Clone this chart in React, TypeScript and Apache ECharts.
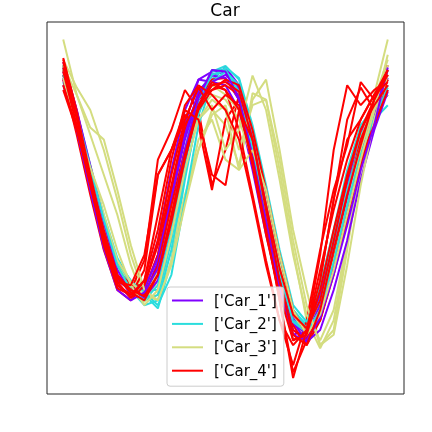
import React, { useEffect, useRef } from 'react';
import * as echarts from 'echarts';

// sample positions along the series (0..576)
const xIndex = [0, 24, 48, 72, 96, 120, 144, 168, 192, 216, 240, 264, 288, 312, 336, 360, 384, 408, 432, 456, 480, 504, 528, 552, 576];

const classNames = ["['Car_1']", "['Car_2']", "['Car_3']", "['Car_4']"];
const classColors = ['#8000ff', '#2adddd', '#d4dd80', '#ff0000'];

// Car_1
const car1a = [1.84, 1.21, 0.53, -0.16, -0.79, -0.94, -0.85, -0.41, 0.40, 1.21, 1.78, 1.88, 1.90, 1.53, 0.78, -0.04, -0.79, -1.35, -1.45, -0.98, -0.35, 0.21, 0.78, 1.28, 1.71];
const car1b = [1.93, 1.34, 0.65, -0.04, -0.66, -0.91, -0.79, -0.23, 0.65, 1.40, 1.78, 1.75, 1.71, 1.40, 0.65, -0.16, -0.85, -1.41, -1.35, -0.85, -0.23, 0.46, 1.09, 1.46, 1.84];
const car1c = [1.78, 1.15, 0.46, -0.23, -0.73, -0.85, -0.88, -0.60, 0.09, 0.90, 1.53, 1.78, 1.93, 1.71, 1.03, 0.21, -0.58, -1.20, -1.48, -1.16, -0.54, 0.15, 0.90, 1.34, 1.90];
const car1d = [1.88, 1.28, 0.63, -0.08, -0.66, -0.89, -0.91, -0.50, 0.28, 1.03, 1.59, 1.84, 1.88, 1.65, 0.96, 0.15, -0.63, -1.25, -1.41, -1.04, -0.41, 0.28, 0.90, 1.38, 1.80];
const car1e = [1.71, 1.18, 0.55, -0.13, -0.70, -0.85, -0.83, -0.45, 0.30, 1.09, 1.63, 1.83, 1.80, 1.53, 0.84, 0.03, -0.73, -1.29, -1.38, -0.91, -0.29, 0.34, 0.78, 1.28, 1.65];
const car1f = [2.00, 1.40, 0.71, 0.00, -0.60, -0.88, -0.95, -0.73, -0.10, 0.78, 1.46, 1.75, 1.84, 1.68, 1.03, 0.21, -0.60, -1.25, -1.50, -1.35, -0.85, -0.23, 0.53, 1.15, 1.63];
const car1g = [1.80, 1.15, 0.40, -0.33, -0.85, -0.98, -0.88, -0.58, 0.05, 0.90, 1.55, 1.90, 1.88, 1.55, 0.80, -0.08, -0.83, -1.41, -1.48, -1.20, -0.66, -0.04, 0.65, 1.21, 1.93];

// Car_2
const car2a = [1.90, 1.30, 0.68, 0.03, -0.50, -0.73, -0.91, -1.08, -0.48, 0.53, 1.40, 1.88, 1.95, 1.78, 1.15, 0.40, -0.41, -1.10, -1.29, -0.91, -0.23, 0.53, 1.15, 1.40, 1.78];
const car2b = [1.80, 1.21, 0.59, -0.04, -0.54, -0.79, -0.98, -0.91, -0.23, 0.71, 1.53, 1.90, 1.90, 1.65, 0.96, 0.21, -0.58, -1.20, -1.33, -0.85, -0.16, 0.59, 1.09, 1.34, 1.65];
const car2c = [1.96, 1.38, 0.71, 0.09, -0.45, -0.75, -0.85, -0.85, -0.10, 0.90, 1.63, 1.84, 1.88, 1.63, 0.90, 0.09, -0.66, -1.23, -1.35, -0.98, -0.33, 0.40, 1.03, 1.38, 1.71];
const car2d = [1.75, 1.15, 0.53, -0.08, -0.60, -0.85, -1.04, -0.98, -0.35, 0.59, 1.34, 1.78, 1.93, 1.80, 1.21, 0.46, -0.35, -1.04, -1.25, -0.79, -0.10, 0.65, 1.21, 1.43, 1.59];
const car2e = [1.84, 1.25, 0.63, 0.00, -0.50, -0.75, -0.88, -1.04, -0.66, 0.28, 1.21, 1.75, 1.88, 1.71, 1.09, 0.34, -0.45, -1.10, -1.33, -0.98, -0.35, 0.40, 0.96, 1.28, 1.46];
const car2f = [1.93, 1.34, 0.68, 0.03, -0.54, -0.85, -0.98, -0.79, -0.10, 0.78, 1.53, 1.84, 1.90, 1.63, 0.93, 0.15, -0.63, -1.25, -1.38, -1.10, -0.50, 0.21, 0.84, 1.30, 1.68];

// Car_3
const car3a = [2.28, 1.59, 1.09, 0.59, 0.09, -0.54, -0.98, -0.91, -0.35, 0.34, 0.90, 1.40, 1.21, 0.71, 1.53, 1.78, 0.90, -0.10, -0.85, -1.54, -1.35, -0.35, 0.78, 1.59, 2.28];
const car3b = [2.03, 1.68, 1.40, 0.90, 0.28, -0.41, -0.91, -0.98, -0.48, 0.28, 1.03, 1.28, 0.78, 0.65, 1.61, 1.53, 0.65, -0.35, -1.23, -1.58, -1.23, -0.29, 0.65, 1.28, 1.90];
const car3c = [1.84, 1.21, 0.59, 0.00, -0.50, -0.85, -1.00, -0.73, 0.03, 0.84, 1.40, 1.59, 1.53, 1.28, 0.78, -0.04, -0.79, -1.29, -1.41, -1.04, -0.41, 0.34, 1.03, 1.53, 2.03];
const car3d = [1.71, 1.28, 0.65, 0.00, -0.54, -0.88, -0.95, -0.60, 0.15, 0.90, 1.28, 1.46, 0.90, 1.15, 1.83, 1.40, 0.53, -0.41, -1.16, -1.48, -1.10, -0.23, 0.71, 1.40, 1.71];
const car3e = [1.90, 1.30, 0.71, 0.09, -0.48, -0.75, -0.91, -0.66, 0.09, 0.90, 1.46, 1.71, 1.59, 1.40, 1.03, 0.28, -0.54, -1.16, -1.38, -1.10, -0.48, 0.21, 0.90, 1.46, 1.96];
const car3f = [1.96, 1.59, 1.18, 1.03, 0.40, -0.29, -0.85, -0.98, -0.54, 0.21, 0.90, 1.34, 1.46, 0.90, 1.46, 1.53, 0.78, -0.23, -1.04, -1.54, -1.41, -0.54, 0.46, 1.28, 1.84];
const car3g = [1.80, 1.21, 0.68, 0.21, -0.35, -0.79, -1.04, -0.85, -0.16, 0.65, 1.28, 1.53, 1.40, 0.65, 0.90, 0.40, -0.41, -1.10, -1.41, -1.16, -0.60, 0.09, 0.78, 1.40, 2.09];

// Car_4
const car4a = [1.96, 1.34, 0.59, -0.16, -0.73, -0.85, -0.48, 0.78, 1.15, 1.65, 1.40, 0.46, 0.90, 1.59, 1.15, 0.28, -0.60, -1.48, -1.35, -0.41, 0.90, 1.71, 1.46, 1.65, 1.78];
const car4b = [1.90, 1.21, 0.46, -0.23, -0.79, -0.91, -0.60, 0.59, 0.90, 1.34, 1.21, 0.40, 1.28, 1.53, 0.90, -0.04, -0.98, -1.88, -1.48, -0.73, 0.28, 1.28, 1.68, 1.40, 1.59];
const car4c = [2.03, 1.40, 0.65, -0.04, -0.60, -0.79, -0.79, -0.23, 0.59, 1.28, 1.68, 1.71, 1.65, 1.15, 0.34, -0.48, -1.23, -1.79, -1.23, -0.35, 0.40, 0.96, 1.75, 1.53, 1.84];
const car4d = [1.84, 1.15, 0.40, -0.29, -0.79, -0.91, -0.85, -0.41, 0.40, 1.15, 1.59, 1.78, 1.80, 1.53, 0.84, 0.00, -0.79, -1.35, -1.48, -1.10, -0.41, 0.34, 1.03, 1.46, 1.96];
const car4e = [1.78, 1.09, 0.34, -0.35, -0.85, -0.98, -0.79, -0.29, 0.46, 1.21, 1.53, 1.65, 1.71, 1.59, 0.96, 0.15, -0.66, -1.29, -1.54, -1.23, -0.60, 0.09, 0.71, 1.28, 1.78];
const car4f = [1.93, 1.28, 0.53, -0.16, -0.70, -0.88, -0.91, -0.54, 0.21, 0.90, 1.40, 1.65, 1.78, 1.71, 1.15, 0.40, -0.41, -1.10, -1.41, -1.23, -0.66, 0.03, 0.78, 1.21, 1.65];
const car4g = [1.88, 1.21, 0.49, -0.20, -0.75, -0.95, -0.73, 0.09, 0.90, 1.40, 1.28, 0.59, 0.46, 1.40, 1.03, 0.15, -0.73, -1.41, -1.54, -1.10, -0.35, 0.34, 0.96, 1.53, 1.90];
const car4h = [1.65, 1.15, 0.53, -0.10, -0.66, -0.88, -0.98, -0.66, 0.09, 0.84, 1.46, 1.75, 1.65, 1.40, 0.78, -0.10, -0.98, -1.95, -1.35, -0.60, 0.15, 0.78, 1.28, 1.59, 1.90];
const car4i = [2.00, 1.30, 0.50, -0.29, -0.83, -0.91, -0.73, -0.10, 0.78, 1.46, 1.71, 1.59, 1.40, 1.03, 0.28, -0.54, -1.23, -1.54, -1.35, -0.73, 0.28, 1.03, 1.28, 1.59, 1.75];
const car4j = [1.71, 1.18, 0.46, -0.23, -0.75, -0.79, -0.41, 0.59, 0.90, 1.28, 1.68, 1.40, 1.59, 1.46, 0.71, -0.16, -0.91, -1.48, -1.41, -0.85, -0.10, 0.59, 1.15, 1.46, 1.71];
const car4k = [2.05, 1.38, 0.59, -0.13, -0.66, -0.85, -0.93, -0.66, 0.00, 0.78, 1.43, 1.71, 1.75, 1.63, 1.03, 0.21, -0.58, -1.16, -1.33, -0.98, -0.23, 0.53, 1.15, 1.53, 1.84];

const classSeries = [
  [car1a, car1b, car1c, car1d, car1e, car1f, car1g],
  [car2a, car2b, car2c, car2d, car2e, car2f],
  [car3a, car3b, car3c, car3d, car3e, car3f, car3g],
  [car4a, car4b, car4c, car4d, car4e, car4f, car4g, car4h, car4i, car4j, car4k],
];

const App: React.FC = () => {
  const chartRef = useRef<HTMLDivElement>(null);

  useEffect(() => {
    if (!chartRef.current) return;
    const chart = echarts.init(chartRef.current, undefined, { renderer: 'svg' });

    // samples are drawn interleaved across classes, as in the source plot
    const series: any[] = [];
    const maxLines = Math.max(...classSeries.map(l => l.length));
    for (let k = 0; k < maxLines; k++) {
      classSeries.forEach((lines, ci) => {
        const values = lines[k];
        if (!values) return;
        series.push({
          name: classNames[ci],
          type: 'line',
          symbol: 'none',
          data: values.map((v, i) => [xIndex[i], v]),
          lineStyle: { width: 2, color: classColors[ci] },
          itemStyle: { color: classColors[ci] },
        });
      });
    }

    chart.setOption({
      animation: false,
      textStyle: { fontFamily: 'DejaVu Sans' },
      title: {
        text: 'Car',
        left: 225,
        textAlign: 'center',
        top: 1,
        padding: 0,
        textStyle: { fontSize: 17, fontWeight: 'normal', color: '#000', fontFamily: 'DejaVu Sans' },
      },
      grid: {
        left: 47,
        top: 22,
        width: 357,
        height: 372,
        show: true,
        borderColor: '#262626',
        borderWidth: 1,
        backgroundColor: '#fff',
      },
      xAxis: {
        type: 'value',
        min: -28.8,
        max: 604.8,
        axisLine: { show: false },
        axisTick: { show: false },
        axisLabel: { show: false },
        splitLine: { show: false },
      },
      yAxis: {
        type: 'value',
        min: -2.15,
        max: 2.5,
        axisLine: { show: false },
        axisTick: { show: false },
        axisLabel: { show: false },
        splitLine: { show: false },
      },
      legend: {
        data: classNames,
        orient: 'vertical',
        left: 167,
        top: 287,
        icon: 'rect',
        itemWidth: 31,
        itemHeight: 2,
        itemGap: 6.4,
        padding: [5, 7, 7, 5],
        backgroundColor: 'rgba(255,255,255,0.8)',
        borderColor: '#cccccc',
        borderWidth: 1,
        borderRadius: 3,
        textStyle: { fontSize: 15, lineHeight: 17, color: '#000', fontFamily: 'DejaVu Sans', padding: [0, 0, 0, 6] },
      },
      series,
    });

    return () => {
      chart.dispose();
    };
  }, []);

  return (
    <div
      ref={chartRef}
      style={{ position: 'fixed', left: 0, top: 0, width: '432px', height: '432px' }}
    />
  );
};

export default App;
